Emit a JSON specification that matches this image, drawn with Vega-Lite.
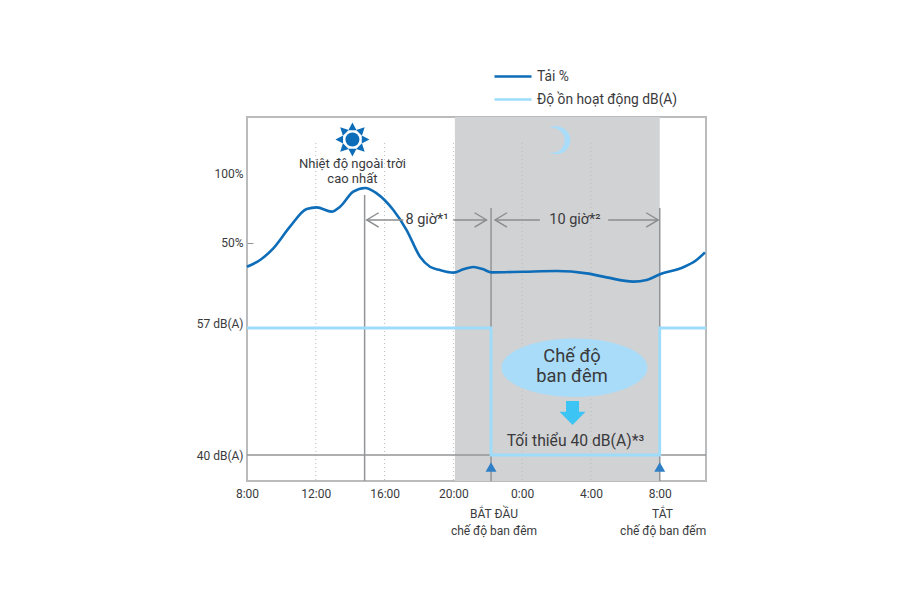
{
"$schema":"https://vega.github.io/schema/vega-lite/v6.json",
"width":459,"height":364,
"autosize":{"type":"none"},
"padding":{"left":247,"top":117,"right":194,"bottom":119},
"background":"white",
"config":{"view":{"stroke":"#b9bbbd","strokeWidth":2},"font":"Roboto","text":{"font":"Roboto","color":"#3a3a3c"},"axis":{"labelFont":"Roboto","labelColor":"#3a3a3c"},"legend":{"labelFont":"Roboto"}},
"datasets":{
"load":[{"series":"Tải %","h":0,"pct":32.8},{"series":"Tải %","h":0.76,"pct":37.7},{"series":"Tải %","h":1.53,"pct":46.1},{"series":"Tải %","h":2.5,"pct":61.8},{"series":"Tải %","h":3.47,"pct":74.6},{"series":"Tải %","h":4.05,"pct":75.8},{"series":"Tải %","h":4.92,"pct":72.7},{"series":"Tải %","h":5.41,"pct":76.3},{"series":"Tải %","h":6.18,"pct":87.2},{"series":"Tải %","h":6.86,"pct":89.9},{"series":"Tải %","h":7.54,"pct":86},{"series":"Tải %","h":8.51,"pct":73.9},{"series":"Tải %","h":9.28,"pct":59.4},{"series":"Tải %","h":10.06,"pct":40.1},{"series":"Tải %","h":10.64,"pct":32.8},{"series":"Tải %","h":11.22,"pct":30.4},{"series":"Tải %","h":12,"pct":28.5},{"series":"Tải %","h":12.58,"pct":30.9},{"series":"Tải %","h":13.16,"pct":32.6},{"series":"Tải %","h":13.74,"pct":30.9},{"series":"Tải %","h":14.22,"pct":28.7},{"series":"Tải %","h":16.07,"pct":29.2},{"series":"Tải %","h":18,"pct":29.7},{"series":"Tải %","h":19.75,"pct":28},{"series":"Tải %","h":20.91,"pct":25.1},{"series":"Tải %","h":22.46,"pct":22},{"series":"Tải %","h":23.24,"pct":23.2},{"series":"Tải %","h":24.01,"pct":27.3},{"series":"Tải %","h":25.37,"pct":32.4},{"series":"Tải %","h":26.14,"pct":37.7},{"series":"Tải %","h":26.63,"pct":43.2}],
"noise":[{"series":"Độ ồn hoạt động dB(A)","h":0,"db":57},{"series":"Độ ồn hoạt động dB(A)","h":14.19,"db":57},{"series":"Độ ồn hoạt động dB(A)","h":14.19,"db":40},{"series":"Độ ồn hoạt động dB(A)","h":24,"db":40},{"series":"Độ ồn hoạt động dB(A)","h":24,"db":57},{"series":"Độ ồn hoạt động dB(A)","h":26.69,"db":57}],
"segments":[{"h1":6.96,"h2":9.09,"pct":66.7},{"h1":12,"h2":13.93,"pct":66.7},{"h1":14.42,"h2":17.03,"pct":66.7},{"h1":21,"h2":23.91,"pct":66.7}]
},
"layer":[
{"layer":[
 {"data":{"values":[{"h1":12.09,"h2":24}]},"mark":{"type":"rect","color":"#d1d2d4"},"encoding":{"x":{"field":"h1","type":"quantitative","scale":{"domain":[0,26.69],"nice":false,"zero":false},"title":null,"axis":{"values":[0,4,8,12,16,20,24],"labelExpr":"((8+datum.value)%24)+':00'","labelFlush":false,"grid":false,"ticks":false,"domain":false,"labelFontSize":12,"labelPadding":7}},"x2":{"field":"h2"}}},
 {"data":{"values":[{"h":4},{"h":8},{"h":12},{"h":16},{"h":20}]},"mark":{"type":"rule","color":"#b9bbbd","strokeWidth":1,"strokeDash":[1,3]},"encoding":{"x":{"field":"h","type":"quantitative"},"y":{"datum":122.5,"type":"quantitative"},"y2":{"datum":-122.46}}},
 {"data":{"values":[{"h":6.84,"top":84.8},{"h":14.19,"top":75.4},{"h":24,"top":75.4}]},"mark":{"type":"rule","color":"#929497","strokeWidth":1.5},"encoding":{"x":{"field":"h","type":"quantitative"},"y":{"field":"top","type":"quantitative"},"y2":{"datum":-122.46}}},
 {"data":{"name":"load"},"mark":{"type":"line","interpolate":"monotone","strokeWidth":2.6},"encoding":{"x":{"field":"h","type":"quantitative"},"y":{"field":"pct","type":"quantitative","scale":{"domain":[-122.46,141.3],"nice":false,"zero":false},"title":null,"axis":{"orient":"left","values":[50,100],"labelExpr":"datum.value+'%'","grid":false,"domain":false,"tickSize":-6,"tickColor":"#929497","tickOpacity":{"expr":"datum.value==50?1:0"},"labelPadding":10,"labelFontSize":12}},"color":{"field":"series","type":"nominal","scale":{"domain":["Tải %","Độ ồn hoạt động dB(A)"],"range":["#0e6db8","#9ddcfb"]},"title":null,"legend":{"orient":"none","legendX":246,"legendY":-52,"symbolType":"stroke","symbolSize":1369,"symbolStrokeWidth":2.6,"labelFontSize":13.8,"labelColor":"#3a3a3c","clipHeight":23,"rowPadding":0,"labelOffset":4}}}}
]},
{"layer":[
 {"data":{"values":[{"db":40}]},"mark":{"type":"rule","color":"#929497","strokeWidth":1.5},"encoding":{"y":{"field":"db","type":"quantitative"}}},
 {"data":{"name":"noise"},"mark":{"type":"line","strokeWidth":2.8},"encoding":{"x":{"field":"h","type":"quantitative"},"y":{"field":"db","type":"quantitative","scale":{"domain":[36.52,85.25],"nice":false,"zero":false},"title":null,"axis":{"orient":"left","values":[40,57],"labelExpr":"datum.value+' dB(A)'","grid":false,"domain":false,"ticks":false,"labelPadding":4,"labelFontSize":12,"labelOffset":{"expr":"datum.value==57?-5:0"}}},"color":{"field":"series","type":"nominal"},"order":{"field":"ord"}}}
]},
{"layer":[
 {"data":{"name":"segments"},"mark":{"type":"rule","color":"#8a8c8e","strokeWidth":1.4},"encoding":{"x":{"field":"h1","type":"quantitative"},"x2":{"field":"h2"},"y":{"field":"pct","type":"quantitative","scale":{"domain":[-122.46,141.3],"nice":false,"zero":false},"axis":null}}},
 {"data":{"values":[{"h":6.96,"pct":66.7},{"h":14.42,"pct":66.7}]},"mark":{"type":"point","shape":"M1,-0.6L0,0L1,0.6","filled":false,"size":576,"stroke":"#8a8c8e","strokeWidth":1.4,"opacity":1},"encoding":{"x":{"field":"h","type":"quantitative"},"y":{"field":"pct","type":"quantitative"}}},
 {"data":{"values":[{"h":13.93,"pct":66.7},{"h":23.91,"pct":66.7}]},"mark":{"type":"point","shape":"M-1,-0.6L0,0L-1,0.6","filled":false,"size":576,"stroke":"#8a8c8e","strokeWidth":1.4,"opacity":1},"encoding":{"x":{"field":"h","type":"quantitative"},"y":{"field":"pct","type":"quantitative"}}},
 {"data":{"values":[{"h":14.19,"pct":-112.3},{"h":24,"pct":-112.3}]},"mark":{"type":"point","shape":"triangle-up","filled":true,"size":120,"color":"#2e7fc6","opacity":1},"encoding":{"x":{"field":"h","type":"quantitative"},"y":{"field":"pct","type":"quantitative"}}},
 {"data":{"values":[{"h":6.13,"pct":125.0}]},"mark":{"type":"point","shape":"circle","filled":true,"size":196,"color":"#0e6db8","opacity":1},"encoding":{"x":{"field":"h","type":"quantitative"},"y":{"field":"pct","type":"quantitative"}}},
 {"data":{"values":[{"h":6.13,"pct":125.0}]},"mark":{"type":"point","shape":"M-0.24,-0.55L0,-1L0.24,-0.55ZM-0.24,0.55L0,1L0.24,0.55ZM0.55,-0.24L1,0L0.55,0.24ZM-0.55,-0.24L-1,0L-0.55,0.24ZM0.22,-0.56L0.72,-0.72L0.56,-0.22ZM-0.22,-0.56L-0.72,-0.72L-0.56,-0.22ZM0.22,0.56L0.72,0.72L0.56,0.22ZM-0.22,0.56L-0.72,0.72L-0.56,0.22Z","filled":true,"size":1156,"color":"#0e6db8","opacity":1},"encoding":{"x":{"field":"h","type":"quantitative"},"y":{"field":"pct","type":"quantitative"}}},
 {"data":{"values":[{"h":18.15,"pct":124.4}]},"mark":{"type":"point","shape":"M-0.75,-0.9A1.05,1.05,0,1,1,-0.75,0.9A0.93,0.93,0,1,0,-0.75,-0.9Z","filled":true,"size":708,"color":"#a8dcf8","opacity":1},"encoding":{"x":{"field":"h","type":"quantitative"},"y":{"field":"pct","type":"quantitative"}}},
 {"data":{"values":[{"h":19.04,"pct":-40.4}]},"mark":{"type":"point","shape":"M-1,0A1,0.4,0,1,1,1,0A1,0.4,0,1,1,-1,0Z","filled":true,"size":21300,"color":"#a8dcf8","opacity":1},"encoding":{"x":{"field":"h","type":"quantitative"},"y":{"field":"pct","type":"quantitative"}}},
 {"data":{"values":[{"h":18.93,"pct":-73.2}]},"mark":{"type":"point","shape":"M-0.5,-0.92L0.5,-0.92L0.5,-0.1L1,-0.1L0,0.92L-1,-0.1L-0.5,-0.1Z","filled":true,"size":676,"color":"#3cc4f4","opacity":1},"encoding":{"x":{"field":"h","type":"quantitative"},"y":{"field":"pct","type":"quantitative"}}},
 {"data":{"values":[{"h":6.13,"pct":107,"label":"Nhiệt độ ngoài trời"},{"h":6.13,"pct":96.7,"label":"cao nhất"}]},"mark":{"type":"text","fontSize":13},"encoding":{"x":{"field":"h","type":"quantitative"},"y":{"field":"pct","type":"quantitative"},"text":{"field":"label"}}},
 {"data":{"values":[{"h":10.47,"pct":66.7,"label":"8 giờ*¹"},{"h":19.07,"pct":66.7,"label":"10 giờ*²"}]},"mark":{"type":"text","fontSize":14.5},"encoding":{"x":{"field":"h","type":"quantitative"},"y":{"field":"pct","type":"quantitative"},"text":{"field":"label"}}},
 {"data":{"values":[{"h":18.9,"pct":-32.4,"label":"Chế độ"},{"h":18.9,"pct":-47.3,"label":"ban đêm"}]},"mark":{"type":"text","fontSize":18.3},"encoding":{"x":{"field":"h","type":"quantitative"},"y":{"field":"pct","type":"quantitative"},"text":{"field":"label"}}},
 {"data":{"values":[{"h":19.1,"pct":-93.3,"label":"Tối thiểu 40 dB(A)*³"}]},"mark":{"type":"text","fontSize":15.7},"encoding":{"x":{"field":"h","type":"quantitative"},"y":{"field":"pct","type":"quantitative"},"text":{"field":"label"}}},
 {"data":{"values":[{"h":14.36,"pct":-146.4,"label":"BẮT ĐẦU"},{"h":14.36,"pct":-158.7,"label":"chế độ ban đêm"},{"h":24.16,"pct":-146.4,"label":"TẮT"},{"h":24.2,"pct":-158.7,"label":"chế độ ban đếm"}]},"mark":{"type":"text","fontSize":12,"clip":false},"encoding":{"x":{"field":"h","type":"quantitative"},"y":{"field":"pct","type":"quantitative"},"text":{"field":"label"}}}
]}
],
"resolve":{"scale":{"y":"independent"},"axis":{"y":"independent"}}
}
